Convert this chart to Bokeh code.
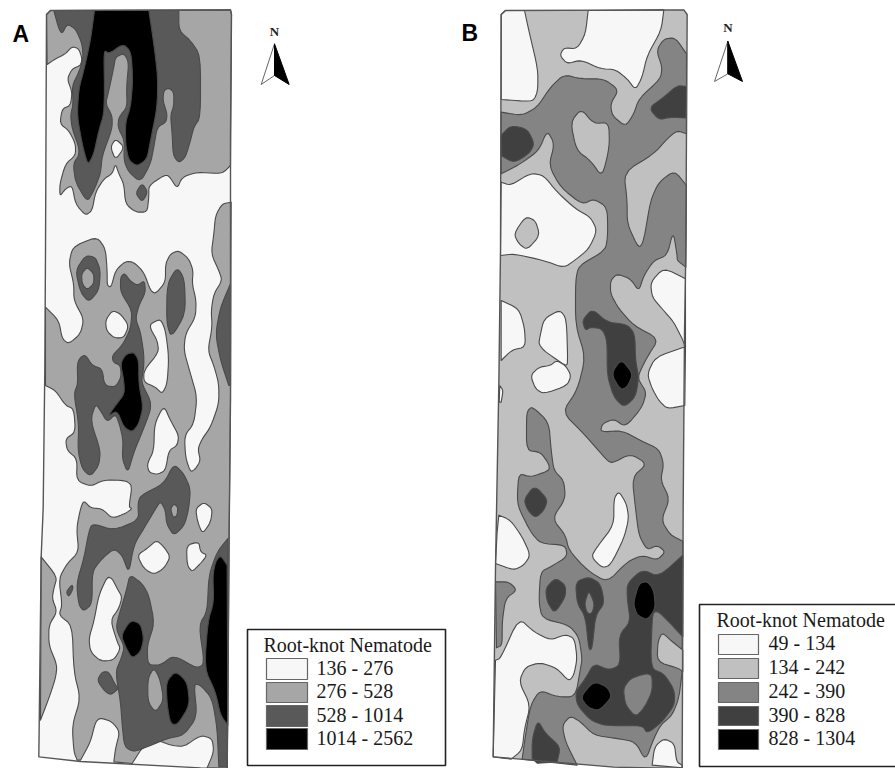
from bokeh.plotting import figure
from bokeh.embed import file_html
from bokeh.resources import INLINE
from bokeh.models import Range1d
from bokeh.core.properties import value

# ---- map outlines, map units are one third of a picture pixel ----
A_field = [(138,42),(150,30),(690,28),(693,42),(690,400),(690,1200),(686,1594),(682,2124),(680,2304),(600,2302),(240,2283),(115,2269),(122,1669),(128,1524),(133,1100),(135,750)]
A_gray = [
 [(140,192),(165,175),(195,160),(215,138),(235,145),(245,175),(240,195),(215,205),(200,235),(215,275),(210,315),(185,325),(178,370),(205,390),(225,430),(225,465),(195,490),(178,550),(178,588),(195,565),(215,555),(225,610),(255,645),(275,630),(285,575),(310,535),(335,520),(345,490),(355,520),(370,550),(375,610),(405,635),(440,635),(445,590),(445,555),(490,525),(505,525),(530,565),(545,530),(590,515),(665,520),(690,495),(693,42),(690,28),(150,30),(138,42)],
 [(205,790),(215,745),(240,728),(290,710),(315,745),(320,810),(320,855),(332,860),(345,810),(375,782),(400,785),(430,815),(450,870),(465,880),(495,845),(495,790),(510,760),(535,750),(565,775),(578,810),(575,850),(587,900),(585,950),(555,1000),(550,1050),(570,1120),(590,1190),(580,1270),(552,1305),(555,1370),(570,1415),(585,1405),(600,1380),(592,1345),(605,1315),(630,1280),(655,1210),(655,1150),(640,1095),(622,1050),(635,980),(632,930),(640,880),(665,840),(655,810),(632,760),(640,700),(645,645),(665,610),(692,605),(690,1200),(686,1594),(682,2124),(680,2304),(620,2302),(640,2254),(635,2214),(600,2204),(550,2239),(510,2234),(470,2219),(430,2234),(395,2289),(340,2284),(345,2244),(358,2194),(335,2164),(300,2152),(285,2164),(270,2224),(240,2279),(230,2279),(220,2254),(215,2174),(240,2094),(220,2014),(215,1874),(175,1844),(185,1814),(175,1734),(200,1689),(235,1654),(228,1584),(240,1524),(250,1500),(270,1522),(305,1525),(335,1554),(375,1539),(395,1524),(385,1520),(395,1455),(375,1440),(310,1438),(270,1458),(228,1440),(230,1375),(200,1350),(195,1315),(225,1295),(220,1225),(195,1215),(165,1170),(135,1155),(135,920),(175,960),(185,1015),(205,1030),(240,1000),(250,955),(220,900),(220,850)],
 [(122,1669),(170,1729),(160,1764),(155,1794),(170,1834),(145,1874),(145,1934),(170,1994),(165,2034),(145,2094),(120,2159)],
]
A_white = [
 [(330,440),(345,415),(372,440),(345,478)],
 [(315,960),(335,930),(360,940),(385,975),(370,1012),(340,1012),(318,990)],
 [(450,970),(480,955),(495,990),(505,1070),(500,1150),(485,1180),(465,1160),(430,1145),(430,1110),(475,1055),(470,1020),(450,985)],
 [(490,1215),(510,1260),(535,1305),(530,1335),(505,1350),(495,1410),(470,1422),(445,1415),(440,1390),(460,1350),(462,1270)],
 [(585,1525),(610,1505),(636,1525),(630,1566),(606,1600),(592,1566)],
 [(410,1664),(440,1644),(468,1619),(490,1639),(510,1669),(490,1704),(460,1722),(430,1704)],
 [(558,1634),(595,1624),(600,1654),(620,1664),(600,1689),(575,1714),(560,1694)],
 [(320,1729),(335,1734),(350,1764),(365,1789),(355,1824),(330,1859),(350,1924),(360,1944),(340,1979),(300,1982),(270,1954),(265,1914),(280,1864),(295,1784)],
]
A_dark = [
 [(160,30),(175,85),(185,100),(200,70),(225,85),(245,130),(248,175),(235,215),(215,255),(218,310),(210,345),(215,385),(235,440),(235,465),(218,490),(225,545),(260,605),(280,570),(300,520),(305,465),(335,385),(335,345),(315,310),(325,270),(340,200),(345,170),(370,158),(385,185),(378,260),(380,320),(355,350),(352,380),(372,420),(370,480),(385,515),(420,545),(450,490),(460,440),(470,380),(497,365),(500,340),(487,300),(490,270),(505,262),(520,275),(520,315),(510,345),(515,400),(518,465),(535,487),(555,470),(570,420),(580,380),(600,350),(600,165),(570,120),(535,90),(535,30)],
 [(425,548),(442,575),(425,605),(405,578)],
 [(225,810),(255,765),(285,770),(300,810),(295,870),(265,905),(240,875)],
 [(360,830),(372,818),(390,842),(410,855),(432,840),(435,875),(415,915),(405,955),(420,995),(430,1060),(430,1100),(422,1145),(450,1200),(450,1230),(425,1295),(400,1355),(382,1418),(365,1375),(368,1320),(358,1275),(345,1240),(320,1265),(300,1230),(285,1210),(270,1260),(300,1350),(295,1395),(270,1428),(245,1405),(232,1350),(235,1270),(220,1180),(232,1150),(230,1090),(240,1070),(255,1063),(275,1095),(305,1105),(312,1155),(345,1160),(362,1130),(360,1095),(338,1085),(335,1065),(365,1035),(390,985),(395,930),(360,875)],
 [(500,850),(530,800),(552,835),(555,940),(512,1012),(498,965)],
 [(690,850),(660,920),(645,1000),(660,1080),(685,1155),(690,1155)],
 [(275,1569),(340,1589),(415,1559),(412,1510),(420,1485),(490,1450),(520,1390),(550,1420),(570,1465),(565,1524),(552,1574),(520,1606),(498,1570),(495,1530),(480,1502),(465,1525),(430,1584),(400,1634),(385,1719),(365,1664),(340,1644),(300,1679),(275,1714),(275,1810),(250,1832),(235,1814),(228,1749),(250,1674),(265,1594)],
 [(197,1774),(215,1752),(218,1764),(205,1789)],
 [(388,1722),(425,1749),(445,1784),(462,1869),(440,1934),(442,1994),(480,1994),(520,1964),(590,2004),(612,1989),(595,1874),(620,1834),(625,1724),(650,1654),(682,1614),(680,2299),(655,2299),(650,2184),(635,2094),(600,2054),(580,2049),(590,2149),(550,2204),(500,2214),(440,2239),(400,2254),(372,2239),(365,2174),(360,2104),(345,2014),(362,1974),(372,1939),(350,1894),(348,1869),(378,1769)],
 [(290,2039),(305,2014),(325,2014),(345,2054),(355,2064),(330,2084),(310,2069)],
]
A_gray_in_dark = [
 [(243,820),(260,800),(280,820),(280,850),(260,868),(245,850)],
 [(510,1525),(520,1510),(532,1520),(530,1545),(518,1552)],
 [(460,2002),(478,2034),(490,2099),(465,2136),(442,2104),(442,2034)],
]
A_black = [
 [(282,30),(445,30),(460,130),(472,230),(470,320),(450,420),(440,475),(410,497),(385,480),(375,430),(375,365),(390,320),(397,240),(392,155),(368,130),(325,160),(310,148),(312,270),(310,340),(295,390),(280,460),(262,495),(245,430),(230,345),(235,265),(250,210),(270,120)],
 [(360,1090),(375,1062),(400,1055),(415,1080),(415,1150),(428,1220),(415,1270),(395,1295),(370,1280),(350,1230),(322,1248),(345,1215),(372,1180),(370,1140)],
 [(362,1904),(390,1859),(420,1869),(430,1914),(420,1954),(395,1974),(375,1939)],
 [(497,2044),(525,2012),(560,2044),(568,2114),(530,2174),(510,2169),(500,2114)],
 [(645,1684),(660,1664),(680,1694),(682,2174),(660,2144),(645,2074),(612,2004),(622,1864),(640,1804),(637,1724)],
]

B_field = [(152,42),(165,30),(700,28),(710,42),(706,750),(702,1000),(698,1524),(695,2304),(490,2300),(128,2269),(135,1700),(145,1150),(150,750)]
B_white = [
 [(152,42),(165,30),(222,30),(235,90),(262,205),(262,270),(250,300),(220,302),(152,297)],
 [(413,30),(640,28),(632,90),(590,165),(575,230),(555,268),(530,235),(495,207),(450,205),(392,178),(350,190),(328,165),(340,142),(380,145),(405,100)],
 [(152,545),(180,555),(240,518),(280,525),(320,575),(375,625),(420,650),(440,690),(415,745),(375,778),(340,802),(280,780),(190,760),(150,765)],
 [(600,845),(640,802),(705,835),(705,1040),(695,1015),(670,965),(635,925),(605,890)],
 [(590,1120),(615,1070),(695,1042),(705,1040),(703,1215),(650,1225),(625,1200),(605,1165)],
 [(152,900),(205,925),(222,980),(225,1040),(185,1048),(152,1080)],
 [(148,1155),(158,1170),(152,1205),(146,1205)],
 [(268,1010),(280,955),(328,928),(348,955),(352,1090),(345,1095),(315,1075),(280,1050),(265,1030)],
 [(240,1125),(265,1100),(300,1095),(318,1080),(345,1095),(362,1125),(350,1155),(280,1180),(255,1165)],
 [(490,1495),(505,1472),(528,1510),(535,1554),(520,1614),(480,1694),(455,1702),(422,1669),(440,1639),(490,1574)],
 [(145,1544),(180,1559),(215,1609),(240,1664),(220,1694),(190,1709),(135,1689),(140,1594)],
 [(135,1979),(150,1974),(205,1852),(250,1894),(300,1919),(345,1902),(372,1914),(380,1974),(370,2024),(355,2042),(320,2004),(270,1986),(225,1999),(205,2044),(240,2114),(222,2184),(215,2249),(182,2276),(128,2269)],
 [(605,2294),(612,2239),(640,2214),(672,2229),(678,2284),(695,2294),(695,2302)],
]
B_light_in_white = [[(190,700),(225,648),(255,660),(268,705),(230,748),(205,730)]]
B_mid = [
 [(152,335),(215,345),(260,320),(300,260),(340,222),(390,235),(460,235),(505,268),(480,310),(485,345),(525,378),(550,340),(565,295),(630,235),(635,200),(618,150),(640,115),(675,112),(708,160),(708,400),(680,390),(650,415),(610,460),(520,515),(530,600),(530,670),(565,745),(580,720),(600,600),(625,545),(672,510),(708,555),(706,800),(680,780),(680,765),(668,692),(650,765),(610,780),(580,825),(565,872),(540,835),(500,820),(480,840),(480,880),(505,925),(550,975),(625,1015),(590,1070),(565,1120),(565,1140),(588,1175),(575,1220),(525,1280),(490,1255),(455,1270),(450,1295),(515,1290),(570,1320),(625,1345),(640,1390),(630,1440),(658,1495),(632,1559),(660,1604),(697,1622),(695,2014),(685,2094),(665,2144),(630,2174),(610,2214),(585,2281),(555,2224),(500,2214),(430,2204),(390,2164),(360,2146),(335,2174),(345,2224),(380,2294),(215,2276),(225,2204),(240,2114),(268,2069),(320,2089),(375,2089),(390,2004),(395,1974),(385,1909),(355,1874),(275,1854),(265,1804),(270,1714),(300,1699),(350,1669),(345,1634),(270,1629),(240,1594),(205,1524),(200,1490),(205,1418),(240,1430),(297,1410),(295,1390),(270,1355),(228,1350),(228,1250),(232,1230),(245,1218),(295,1265),(302,1350),(310,1410),(340,1440),(345,1495),(305,1554),(345,1604),(355,1649),(410,1709),(470,1746),(530,1684),(575,1664),(620,1679),(645,1654),(620,1634),(590,1649),(565,1604),(555,1524),(545,1430),(590,1390),(540,1360),(485,1388),(470,1380),(400,1300),(335,1235),(380,1170),(405,1070),(375,975),(375,840),(385,795),(465,750),(472,700),(470,620),(430,595),(395,612),(330,560),(295,495),(312,430),(290,390),(265,450),(210,490),(152,520)],
 [(135,1744),(175,1744),(200,1769),(165,1794),(155,1864),(155,1934),(138,1942)],
]
B_light_in_mid = [
 [(360,365),(392,325),(430,370),(475,365),(477,440),(455,530),(420,480),(378,450)],
 [(620,1984),(622,1924),(635,1896),(660,1919),(697,1949),(697,2014),(685,2004)],
]
B_dark = [
 [(595,322),(640,290),(680,255),(708,258),(706,352),(660,350),(625,358)],
 [(152,405),(180,375),(230,385),(252,430),(235,460),(190,487),(152,465)],
 [(395,960),(425,925),(470,965),(530,972),(553,1000),(555,1080),(565,1130),(555,1190),(520,1220),(490,1190),(470,1125),(470,1020),(455,985),(420,980),(405,990)],
 [(220,1497),(252,1455),(292,1497),(280,1530),(255,1552),(232,1530)],
 [(285,1764),(315,1732),(345,1754),(345,1789),(312,1839),(290,1804)],
 [(375,1744),(415,1729),(450,1749),(462,1809),(435,1844),(425,1944),(415,1949),(405,1849),(380,1809)],
 [(530,1749),(575,1707),(625,1729),(697,1664),(697,1909),(660,1869),(625,1834),(610,1834),(605,1854),(600,2004),(640,2019),(672,2069),(672,2114),(635,2164),(590,2199),(575,2174),(465,2176),(420,2159),(380,2114),(375,2074),(405,2034),(430,1989),(475,2009),(510,1994),(505,1904),(540,1864),(530,1794)],
 [(245,2214),(262,2159),(285,2199),(330,2239),(320,2284),(245,2289)],
]
B_mid_in_dark = [
 [(402,1809),(415,1769),(432,1809),(425,1839),(410,1839)],
 [(518,2064),(540,2034),(585,2019),(605,2024),(605,2074),(580,2124),(555,2149),(525,2114)],
]
B_black = [
 [(482,1120),(512,1075),(548,1120),(530,1160),(510,1168)],
 [(548,1809),(565,1749),(590,1742),(610,1769),(615,1824),(590,1859),(560,1844)],
 [(390,2089),(430,2042),(470,2059),(485,2089),(445,2132),(410,2119)],
]

A_colors = ["#f7f7f7", "#a6a6a6", "#595959", "#000000"]
B_colors = ["#f7f7f7", "#c0c0c0", "#848484", "#404040", "#000000"]
A_labels = ["136 - 276", "276 - 528", "528 - 1014", "1014 - 2562"]
B_labels = ["49 - 134", "134 - 242", "242 - 390", "390 - 828", "828 - 1304"]
legend_title = "Root-knot Nematode"

U = 3.0            # map units per pixel
B_SHIFT = 1350     # panel B is stored relative to its own crop

p = figure(width=895, height=768, toolbar_location=None, output_backend="svg",
           x_range=Range1d(0, 895*U), y_range=Range1d(768*U, 0),
           min_border=0, outline_line_color=None)
p.axis.visible = False
p.grid.visible = False
p.background_fill_color = "#ffffff"
p.border_fill_color = "#ffffff"

EDGE = "#4a4a4a"

def seg_dist(pt, a, b):
    ax, ay = a
    bx, by = b
    dx, dy = bx - ax, by - ay
    L = dx*dx + dy*dy
    t = 0 if L == 0 else max(0, min(1, ((pt[0]-ax)*dx + (pt[1]-ay)*dy) / L))
    return ((pt[0]-ax-t*dx)**2 + (pt[1]-ay-t*dy)**2) ** 0.5

def on_border(pt, field, tol=9):
    return any(seg_dist(pt, field[i], field[(i+1) % len(field)]) < tol for i in range(len(field)))

def rounded(poly, field, passes=2, cut=0.2):
    # corner rounding of the drawn outline only; vertices on the field border stay put
    pts = list(poly)
    for _ in range(passes):
        out = []
        n = len(pts)
        for i, v in enumerate(pts):
            if on_border(v, field):
                out.append(v)
                continue
            a, b = pts[i-1], pts[(i+1) % n]
            out.append(((1-cut)*v[0] + cut*a[0], (1-cut)*v[1] + cut*a[1]))
            out.append(((1-cut)*v[0] + cut*b[0], (1-cut)*v[1] + cut*b[1]))
        pts = out
    return pts

def draw(polys, color, field, dx=0, edge=EDGE, w=1.1):
    shapes = [rounded(poly, field) for poly in polys]
    xs = [[pt[0] + dx for pt in poly] for poly in shapes]
    ys = [[pt[1] for pt in poly] for poly in shapes]
    p.patches(xs, ys, fill_color=color, line_color=edge, line_width=w, line_join="round")

def frame(field, color=None, dx=0):
    xs = [pt[0] + dx for pt in field]
    ys = [pt[1] for pt in field]
    if color:
        p.patch(xs, ys, fill_color=color, line_color=None)
    else:
        p.patch(xs, ys, fill_alpha=0, line_color="#555555", line_width=1.4, line_join="round")

# panel A
frame(A_field, A_colors[0])
draw(A_gray, A_colors[1], A_field)
draw(A_white, A_colors[0], A_field)
draw(A_dark, A_colors[2], A_field)
draw(A_gray_in_dark, A_colors[1], A_field)
draw(A_black, A_colors[3], A_field)
frame(A_field)

# panel B
frame(B_field, B_colors[1], dx=B_SHIFT)
draw(B_white, B_colors[0], B_field, dx=B_SHIFT)
draw(B_light_in_white, B_colors[1], B_field, dx=B_SHIFT)
draw(B_mid, B_colors[2], B_field, dx=B_SHIFT)
draw(B_light_in_mid, B_colors[1], B_field, dx=B_SHIFT)
draw(B_dark, B_colors[3], B_field, dx=B_SHIFT)
draw(B_mid_in_dark, B_colors[2], B_field, dx=B_SHIFT)
draw(B_black, B_colors[4], B_field, dx=B_SHIFT)
frame(B_field, dx=B_SHIFT)

# panel letters
p.text([36, 1383], [100, 98], text=["A", "B"], text_font=value("Liberation Sans"),
       text_font_style="bold", text_font_size="23px", text_align="left",
       text_baseline="middle", text_color="#000000")

# north arrows
for cx, ty, by, mid, lx, rx, ny in [(822, 130, 252, 225, 782, 866, 92), (2182, 122, 243, 220, 2142, 2226, 82)]:
    p.patch([cx, cx, lx], [ty, mid, by], fill_color="#ffffff", line_color="#666666", line_width=1)
    p.patch([cx, rx, cx], [ty, by, mid], fill_color="#000000", line_color="#000000", line_width=1)
    p.text([cx], [ny], text=["N"], text_font=value("Liberation Serif"), text_font_style="bold",
           text_font_size="13px", text_align="center", text_baseline="middle", text_color="#222222")

# legends
def legend(x0, x1, y0, y1, tx, ty, sx0, sx1, rows, colors, labels, lx):
    p.quad(left=[x0*U], right=[x1*U], top=[y0*U], bottom=[y1*U], fill_color="#ffffff",
           line_color="#222222", line_width=1.6)
    p.text([tx*U], [ty*U], text=[legend_title], text_font=value("Liberation Serif"),
           text_font_size="20px", text_align="left", text_baseline="middle", text_color="#1a1a1a")
    for (a, b), c, lab in zip(rows, colors, labels):
        p.quad(left=[sx0*U], right=[sx1*U], top=[a*U], bottom=[b*U], fill_color=c,
               line_color="#666666", line_width=1.2)
        p.text([lx*U], [(a+b)/2*U - 1.5*U], text=[lab], text_font=value("Liberation Serif"),
               text_font_size="20px", text_align="left", text_baseline="middle", text_color="#1a1a1a")

legend(247, 445, 629, 765, 263, 644, 266, 307,
       [(658, 679), (682, 702), (705, 726), (728, 749)], A_colors, A_labels, 316)
legend(699, 900, 604, 766, 716, 619, 718, 758,
       [(634, 654), (658, 678), (682, 702), (706, 725), (729, 749)], B_colors, B_labels, 768)

open("out.html", "w").write(file_html(p, INLINE))
